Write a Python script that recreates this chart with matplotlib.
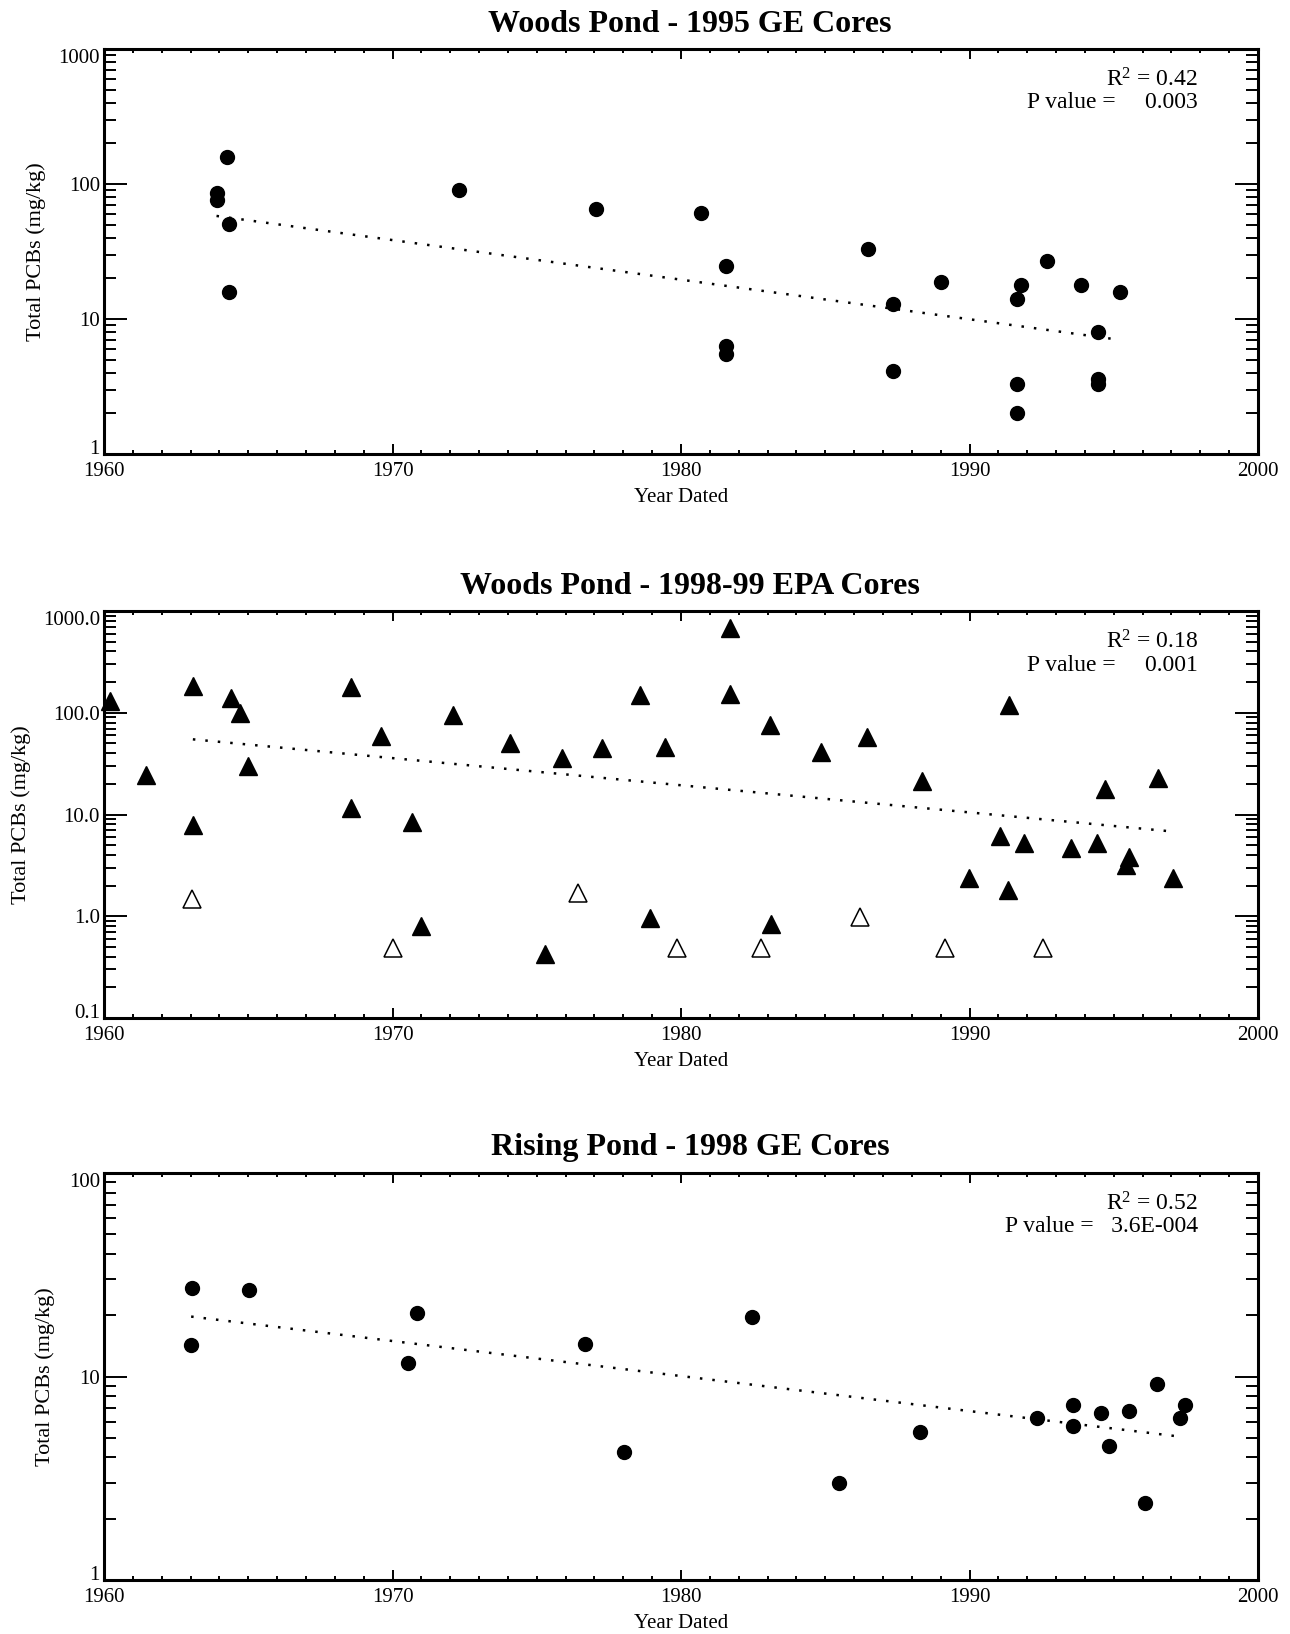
import matplotlib
matplotlib.use("Agg")
import matplotlib.pyplot as plt
from matplotlib.ticker import FixedLocator, FixedFormatter, LogLocator, NullFormatter, MultipleLocator

plt.rcParams['font.family'] = ['Liberation Serif', 'DejaVu Serif']
plt.rcParams['mathtext.default'] = 'regular'

# Woods Pond - 1995 GE cores
wp95_year = [1963.9, 1963.9, 1964.26, 1964.32, 1964.32, 1972.29, 1977.04, 1980.69,
             1981.56, 1981.56, 1981.56, 1986.48, 1987.35, 1987.35, 1989.0, 1991.79,
             1991.63, 1991.63, 1991.63, 1992.70, 1993.87, 1994.47, 1994.47, 1994.47,
             1995.21]
wp95_pcb = [86, 76, 159, 50.6, 15.8, 89.7, 64.9, 60.7,
            24.9, 6.3, 5.5, 32.9, 12.9, 4.1, 18.8, 17.9,
            14.0, 3.29, 2.0, 26.8, 17.9, 8.0, 3.57, 3.29,
            15.8]
wp95_trend_year = [1963.9, 1995.22]
wp95_trend_pcb = [58, 7.0]

# Woods Pond - 1998-99 EPA cores (detected values)
epa_year = [1960.22, 1961.47, 1963.08, 1963.08, 1964.39, 1964.72, 1965.0, 1968.55,
            1968.55, 1969.61, 1970.69, 1970.99, 1972.09, 1974.09, 1975.29, 1975.88,
            1977.27, 1978.58, 1978.91, 1979.43, 1981.69, 1981.69, 1983.09, 1983.12,
            1984.86, 1986.45, 1988.35, 1989.97, 1991.04, 1991.36, 1991.34, 1991.89,
            1993.52, 1994.42, 1994.71, 1995.52, 1995.41, 1996.54, 1997.05]
epa_pcb = [131, 24.2, 184, 7.8, 141, 100, 29.9, 180,
           11.6, 59, 8.4, 0.80, 94.6, 50.8, 0.43, 35.6,
           44.7, 149, 0.96, 46, 684, 153, 76, 0.83,
           41.4, 58, 21.3, 2.39, 6.2, 119, 1.81, 5.2,
           4.67, 5.2, 17.9, 3.86, 3.2, 22.9, 2.36]
# non-detects (plotted as open triangles)
epa_nd_year = [1963.04, 1970.01, 1976.43, 1979.86, 1982.78, 1986.21, 1989.14, 1992.56]
epa_nd_pcb = [1.47, 0.49, 1.70, 0.49, 0.49, 0.99, 0.49, 0.49]
epa_trend_year = [1963.08, 1997.05]
epa_trend_pcb = [54.8, 6.8]

# Rising Pond - 1998 GE cores
rp98_year = [1963.06, 1963.02, 1965.01, 1970.85, 1970.55, 1976.68, 1978.04, 1982.46,
             1985.49, 1988.28, 1992.33, 1993.58, 1993.58, 1994.57, 1994.82, 1995.52,
             1996.07, 1996.50, 1997.30, 1997.47]
rp98_pcb = [27.2, 14.3, 26.6, 20.6, 11.7, 14.4, 4.28, 19.6,
            2.99, 5.34, 6.24, 7.23, 5.68, 6.65, 4.56, 6.8,
            2.38, 9.2, 6.24, 7.23]
rp98_trend_year = [1963.02, 1997.27]
rp98_trend_pcb = [19.7, 5.07]

titles = ["Woods Pond - 1995 GE Cores", "Woods Pond - 1998-99 EPA Cores",
          "Rising Pond - 1998 GE Cores"]
r2_text = ["R$^2$ = 0.42", "R$^2$ = 0.18", "R$^2$ = 0.52"]
p_text = ["P value =     0.003", "P value =     0.001", "P value =   3.6E-004"]
x_ticks = [1960, 1970, 1980, 1990, 2000]
y_ticks = [[1, 10, 100, 1000], [0.1, 1, 10, 100, 1000], [1, 10, 100]]
y_ticklabels = [["1", "10", "100", "1000"],
                ["0.1", "1.0", "10.0", "100.0", "1000.0"],
                ["1", "10", "100"]]
y_limits = [(1, 1000), (0.1, 1000), (1, 100)]

W, H = 1290, 1634
fig = plt.figure(figsize=(W / 100, H / 100), dpi=100)

# axes frames in pixel coordinates: (top, bottom)
frames = [(49, 454), (611, 1018), (1173, 1580)]
x_left, x_right = 104, 1258
ylabel_x = [36, 21, 45]

axes = []
for i, (top, bot) in enumerate(frames):
    ax = fig.add_axes([x_left / W, 1 - bot / H, (x_right - x_left) / W, (bot - top) / H])
    axes.append(ax)
    ax.set_yscale('log')
    ax.set_xlim(1960, 2000)
    ax.set_ylim(*y_limits[i])
    for sp in ax.spines.values():
        sp.set_linewidth(2.2)
    ax.xaxis.set_major_locator(FixedLocator(x_ticks))
    ax.xaxis.set_minor_locator(MultipleLocator(1))
    ax.yaxis.set_major_locator(FixedLocator(y_ticks[i]))
    ax.yaxis.set_major_formatter(FixedFormatter(y_ticklabels[i]))
    ax.yaxis.set_minor_locator(LogLocator(base=10, subs=range(2, 10)))
    ax.yaxis.set_minor_formatter(NullFormatter())
    ax.tick_params(axis='both', which='both', direction='in', top=True, right=True,
                   labelsize=15, width=1.4)
    ax.tick_params(axis='x', which='major', length=7.5, pad=6)
    ax.tick_params(axis='x', which='minor', length=3)
    ax.tick_params(axis='y', which='major', length=16.5, pad=3)
    ax.tick_params(axis='y', which='minor', length=8.6)

    # keep the end labels of the y axis inside the frame height
    yt = ax.yaxis.get_major_ticks()
    yt[0].label1.set_va('baseline')
    yt[-1].label1.set_va('top')

    ax.set_xlabel("Year Dated", fontsize=15)
    ax.xaxis.label.set_va('center')
    ax.xaxis.set_label_coords(0.5, -44 / (bot - top))
    ax.set_ylabel("Total PCBs (mg/kg)", fontsize=16)
    ax.yaxis.label.set_va('center')
    ax.yaxis.set_label_coords((ylabel_x[i] - x_left) / (x_right - x_left), 0.5)

    fig.text(690 / W, 1 - (top - 25) / H, titles[i], fontsize=23, fontweight='bold',
             ha='center', va='center')
    fig.text(1198 / W, 1 - (top + 31) / H, r2_text[i], fontsize=17, ha='right', va='center')
    fig.text(1198 / W, 1 - (top + 54) / H, p_text[i], fontsize=17, ha='right', va='center')

dot_style = dict(color='black', linestyle=(0, (1, 4)), linewidth=1.8, zorder=2)

ax = axes[0]
ax.plot(wp95_trend_year, wp95_trend_pcb, **dot_style)
ax.plot(wp95_year, wp95_pcb, 'o', color='black', markersize=10, zorder=3, clip_on=False)

ax = axes[1]
ax.plot(epa_trend_year, epa_trend_pcb, **dot_style)
ax.plot(epa_year, epa_pcb, '^', color='black', markersize=13, zorder=3, clip_on=False)
ax.plot(epa_nd_year, epa_nd_pcb, '^', markerfacecolor='white', markeredgecolor='black',
        markeredgewidth=1.1, markersize=13, zorder=3, clip_on=False)

ax = axes[2]
ax.plot(rp98_trend_year, rp98_trend_pcb, **dot_style)
ax.plot(rp98_year, rp98_pcb, 'o', color='black', markersize=10, zorder=3, clip_on=False)

fig.savefig("out.png", dpi=100)
